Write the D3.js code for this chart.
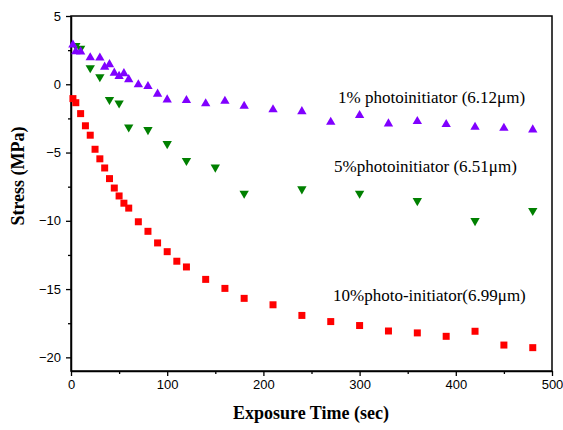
<!DOCTYPE html>
<html lang="en">
<head>
<meta charset="UTF-8">
<title>Stress vs exposure time</title>
<style>
  body { margin: 0; background: #fff; }
  .tick text { font-family: "Liberation Sans", Arial, sans-serif; font-size: 13px; fill: #000; }
  .note { font-family: "Liberation Serif", "Times New Roman", serif; font-size: 17px; fill: #000; }
  .title { font-family: "Liberation Serif", "Times New Roman", serif; font-size: 18px; font-weight: bold; fill: #000; }
</style>
</head>
<body>
<svg id="chart"></svg>
<script src="https://cdn.jsdelivr.net/npm/d3@7"></script>
<script>
// 1% photoinitiator (purple, up triangles)
const time1 = [2, 5, 10, 20, 30, 35, 40, 45, 50, 55, 60, 70, 80, 90, 100, 120, 140, 160, 180, 210, 240, 270, 300, 330, 360, 390, 420, 450, 480];
const stress1 = [2.89, 2.4, 2.38, 1.95, 1.93, 1.27, 1.45, 0.83, 0.59, 0.79, 0.35, -0.02, -0.15, -0.71, -1.13, -1.18, -1.42, -1.23, -1.6, -1.86, -1.99, -2.77, -2.28, -2.89, -2.72, -2.94, -3.14, -3.21, -3.33];

// 5% photoinitiator (green, down triangles)
const time5 = [5, 10, 20, 30, 40, 50, 60, 80, 100, 120, 150, 180, 240, 300, 360, 420, 480];
const stress5 = [2.82, 2.63, 1.2, 0.54, -1.13, -1.38, -3.14, -3.33, -4.36, -5.59, -6.08, -7.99, -7.67, -7.99, -8.53, -10.0, -9.26];

// 10% photo-initiator (red, squares)
const time10 = [2, 5, 10, 15, 20, 25, 30, 35, 40, 45, 50, 55, 60, 70, 80, 90, 100, 110, 120, 140, 160, 180, 210, 240, 270, 300, 330, 360, 390, 420, 450, 480];
const stress10 = [-1.05, -1.35, -2.15, -3.04, -3.73, -4.76, -5.46, -6.13, -6.91, -7.6, -8.18, -8.71, -9.07, -10.07, -10.77, -11.62, -12.26, -12.96, -13.38, -14.29, -14.95, -15.68, -16.15, -16.93, -17.38, -17.67, -18.07, -18.21, -18.46, -18.09, -19.1, -19.29];

const xTicks = [0, 100, 200, 300, 400, 500];
const xMinor = [50, 150, 250, 350, 450];
const yTicks = [5, 0, -5, -10, -15, -20];
const yMinor = [2.5, -2.5, -7.5, -12.5, -17.5];

const W = 563, H = 430;
const margin = { top: 16, right: 11, bottom: 59, left: 71 };
const width = W - margin.left - margin.right;
const height = H - margin.top - margin.bottom;

const svg = d3.select("#chart").attr("width", W).attr("height", H);
const g = svg.append("g").attr("transform", "translate(" + margin.left + "," + margin.top + ")");

const x = d3.scaleLinear().domain([0, 500]).range([0, width]);
const y = d3.scaleLinear().domain([-21, 5]).range([height, 0]);

// frame
g.append("rect")
  .attr("width", width).attr("height", height)
  .attr("fill", "none").attr("stroke", "#000").attr("stroke-width", 1.5);

// x axis
g.append("g")
  .attr("transform", "translate(0," + height + ")")
  .call(d3.axisBottom(x).tickValues(xTicks).tickSize(5).tickSizeOuter(0).tickPadding(4))
  .call(a => a.select(".domain").attr("stroke-width", 1.5));
g.append("g")
  .attr("transform", "translate(0," + height + ")")
  .call(d3.axisBottom(x).tickValues(xMinor).tickSize(3).tickFormat(""))
  .call(a => a.select(".domain").remove());

// y axis
g.append("g")
  .call(d3.axisLeft(y).tickValues(yTicks).tickSize(5).tickSizeOuter(0).tickPadding(5))
  .call(a => a.select(".domain").attr("stroke-width", 1.5));
g.append("g")
  .call(d3.axisLeft(y).tickValues(yMinor).tickSize(3).tickFormat(""))
  .call(a => a.select(".domain").remove());

g.selectAll(".tick line").attr("stroke-width", 1.3);

// markers
function drawSeries(times, values, type, size, color, rotate) {
  const sym = d3.symbol().type(type).size(size);
  g.append("g").selectAll("path")
    .data(times.map((t, i) => [t, values[i]]))
    .enter().append("path")
    .attr("d", sym)
    .attr("fill", color)
    .attr("transform", d => "translate(" + x(d[0]) + "," + y(d[1]) + ")" + (rotate ? " rotate(180)" : ""));
}
drawSeries(time10, stress10, d3.symbolSquare, 49, "#ff0000", false);
drawSeries(time5, stress5, d3.symbolTriangle, 38, "#008000", true);
drawSeries(time1, stress1, d3.symbolTriangle, 38, "#8000ff", false);

// annotations
g.append("text").attr("class", "note").attr("x", 338 - margin.left).attr("y", 103 - margin.top)
  .text("1% photoinitiator (6.12\u03bcm)");
g.append("text").attr("class", "note").attr("x", 334 - margin.left).attr("y", 172 - margin.top)
  .text("5%photoinitiator (6.51\u03bcm)");
g.append("text").attr("class", "note").attr("x", 333 - margin.left).attr("y", 301 - margin.top)
  .text("10%photo-initiator(6.99\u03bcm)");

// axis titles
svg.append("text").attr("class", "title")
  .attr("text-anchor", "middle")
  .attr("x", 311).attr("y", 419)
  .text("Exposure Time (sec)");
svg.append("text").attr("class", "title")
  .attr("text-anchor", "middle")
  .attr("transform", "translate(24,176) rotate(-90)")
  .text("Stress (MPa)");
</script>
</body>
</html>
